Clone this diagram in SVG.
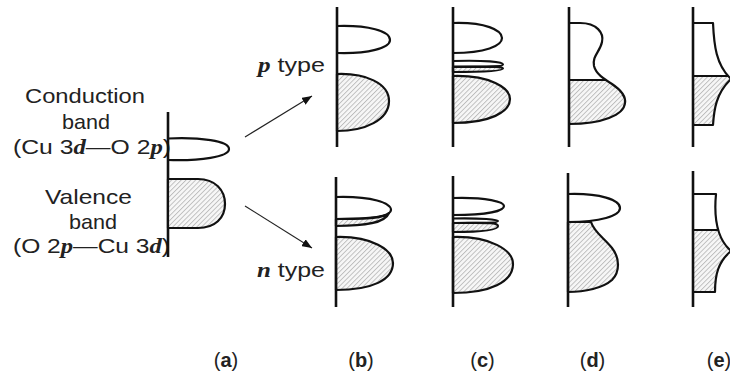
<svg xmlns="http://www.w3.org/2000/svg" width="730" height="374" viewBox="0 0 730 374">
<defs>
<pattern id="h" width="3.4" height="3.4" patternUnits="userSpaceOnUse" patternTransform="rotate(45)"><rect width="3.4" height="3.4" fill="#f7f7f7"/><line x1="0.5" y1="0" x2="0.5" y2="3.4" stroke="#a8a8a8" stroke-width="0.7"/></pattern>
<marker id="ah" viewBox="0 0 10 8" refX="10" refY="4" markerWidth="10" markerHeight="8" markerUnits="userSpaceOnUse" orient="auto"><path d="M0,0 L10,4 L0,8 Z" fill="#111"/></marker>
<clipPath id="cdt"><path d="M569,23 H580 C597,23 604,33 602,42 C600,52 592,56 594,66 C596,74 604,79 612,84 C621,90 626,96 625,103 C624,115 602,124 569,124 Z"/></clipPath>
<clipPath id="cet"><path d="M693,23 H713 C714,45 716,65 731,79 C716,93 714,110 713,125 H693 Z"/></clipPath>
<clipPath id="ceb"><path d="M693,194 H716 C714,215 716,238 731,251 C718,262 715,275 715,292 H693 Z"/></clipPath>
</defs>
<style>
.t{font-family:"Liberation Sans",Arial,sans-serif;font-size:21px;fill:#222}
.m{font-family:"Liberation Serif","Times New Roman",serif;font-style:italic;font-weight:bold}
.lb{font-family:"Liberation Sans",Arial,sans-serif;font-size:20px;fill:#222}
.ax{stroke:#111;stroke-width:2.6;fill:none}
.o{stroke:#111;stroke-width:2.2;fill:none;stroke-linejoin:round}
.s{stroke:#111;stroke-width:2.2;fill:url(#h);stroke-linejoin:round}
.ar{stroke:#222;stroke-width:1.1;fill:none}
</style>
<rect width="730" height="374" fill="#fff"/>

<g id="labels-a">
<text class="t" x="85" y="103" text-anchor="middle" textLength="120" lengthAdjust="spacingAndGlyphs">Conduction</text>
<text class="t" x="86" y="129" text-anchor="middle" textLength="48" lengthAdjust="spacingAndGlyphs">band</text>
<text class="t" x="13" y="154" textLength="158" lengthAdjust="spacingAndGlyphs">(Cu 3<tspan class="m">d</tspan>—O 2<tspan class="m">p</tspan>)</text>
<text class="t" x="88.5" y="204" text-anchor="middle" textLength="87" lengthAdjust="spacingAndGlyphs">Valence</text>
<text class="t" x="93" y="229" text-anchor="middle" textLength="48" lengthAdjust="spacingAndGlyphs">band</text>
<text class="t" x="13" y="253" textLength="157" lengthAdjust="spacingAndGlyphs">(O 2<tspan class="m">p</tspan>—Cu 3<tspan class="m">d</tspan>)</text>
</g>

<g id="node-a">
<line class="ax" x1="168" y1="112" x2="168" y2="257"/>
<path class="o" d="M168,138.5 C200,137 229,141 229,149 C229,157 200,161 168,160"/>
<path class="s" d="M168,179 H198 C215,179 225,190 225,204 C225,218 215,228 198,228 H168 Z"/>
</g>

<g id="connectors">
<line class="ar" x1="245" y1="137" x2="312" y2="96" marker-end="url(#ah)"/>
<line class="ar" x1="245" y1="206" x2="312" y2="248" marker-end="url(#ah)"/>
</g>

<g id="type-labels">
<text class="t" x="258" y="72" textLength="67" lengthAdjust="spacingAndGlyphs"><tspan class="m">p</tspan> type</text>
<text class="t" x="257" y="277" textLength="68" lengthAdjust="spacingAndGlyphs"><tspan class="m">n</tspan> type</text>
</g>

<g id="node-b-p">
<path class="s" d="M337,74 C365,73 389,83 389,101 C389,120 365,131 337,131 Z"/>
<path class="o" d="M337,26 C368,25 390,31 390,40 C390,48 368,54 337,53"/>
<line class="ax" x1="337" y1="7" x2="337" y2="147"/>
</g>

<g id="node-b-n">
<path class="o" d="M336,197 C372,196 391,203 391,210 C391,215 380,219 336,219"/>
<path class="s" d="M336,219 C370,219 384,218 389,213 C385,223 365,226 336,226 Z"/>
<path class="s" d="M336,237 C372,236 393,250 393,263 C393,280 372,290 336,290 Z"/>
<line class="ax" x1="336" y1="177" x2="336" y2="307"/>
</g>

<g id="node-c-p">
<path class="o" d="M453,23 C485,22 502,30 502,38 C502,46 485,53 453,53"/>
<path class="o" d="M453,61 C485,60 503,62 503,64.5 C503,67 485,66.5 453,66.5"/>
<path class="s" d="M453,67 C485,67 503,66 503,68.5 C503,71 485,72 453,72 Z"/>
<path class="s" d="M453,76 C490,75 510,88 510,99 C510,112 490,123 453,123 Z"/>
<line class="ax" x1="453" y1="7" x2="453" y2="147"/>
</g>

<g id="node-c-n">
<path class="o" d="M453,198 C487,197 504,202 504,206 C504,211 487,215 453,215"/>
<path class="o" d="M453,218.5 C482,218 498,219.5 498,221 C498,223 482,223 453,223"/>
<path class="s" d="M453,223 C482,223 498,222 498,226 C498,230 482,232 453,232 Z"/>
<path class="s" d="M453,237 C490,236 513,250 513,264 C513,282 490,293 453,293 Z"/>
<line class="ax" x1="453" y1="176" x2="453" y2="307"/>
</g>

<g id="node-d-p">
<rect x="565" y="80" width="70" height="50" fill="url(#h)" clip-path="url(#cdt)"/>
<line x1="565" y1="80" x2="630" y2="80" stroke="#111" stroke-width="2.2" clip-path="url(#cdt)"/>
<path class="o" d="M569,23 H580 C597,23 604,33 602,42 C600,52 592,56 594,66 C596,74 604,79 612,84 C621,90 626,96 625,103 C624,115 602,124 569,124"/>
<line class="ax" x1="569" y1="7" x2="569" y2="147"/>
</g>

<g id="node-d-n">
<path class="o" d="M568,194 C600,193 620,200 620,208 C620,216 600,222 568,222"/>
<path class="s" d="M568,222 H591 C594,232 604,238 612,248 C620,258 620,272 612,280 C603,288 585,292 568,292 Z"/>
<line class="ax" x1="568" y1="173" x2="568" y2="307"/>
</g>

<g id="node-e-p">
<rect x="690" y="76" width="45" height="52" fill="url(#h)" clip-path="url(#cet)"/>
<line x1="690" y1="76" x2="735" y2="76" stroke="#111" stroke-width="2.2" clip-path="url(#cet)"/>
<path class="o" d="M693,23 H713 C714,45 716,65 731,79 C716,93 714,110 713,125 H693"/>
<line class="ax" x1="693" y1="7" x2="693" y2="147"/>
</g>

<g id="node-e-n">
<rect x="690" y="230" width="45" height="65" fill="url(#h)" clip-path="url(#ceb)"/>
<line x1="690" y1="230" x2="735" y2="230" stroke="#111" stroke-width="2.2" clip-path="url(#ceb)"/>
<path class="o" d="M693,194 H716 C714,215 716,238 731,251 C718,262 715,275 715,292 H693"/>
<line class="ax" x1="693" y1="171" x2="693" y2="307"/>
</g>

<g id="panel-labels">
<text class="lb" x="226" y="367" text-anchor="middle">(<tspan font-weight="bold">a</tspan>)</text>
<text class="lb" x="361" y="367" text-anchor="middle">(<tspan font-weight="bold">b</tspan>)</text>
<text class="lb" x="482.5" y="367" text-anchor="middle">(<tspan font-weight="bold">c</tspan>)</text>
<text class="lb" x="592.5" y="367" text-anchor="middle">(<tspan font-weight="bold">d</tspan>)</text>
<text class="lb" x="719" y="367" text-anchor="middle">(<tspan font-weight="bold">e</tspan>)</text>
</g>
</svg>
